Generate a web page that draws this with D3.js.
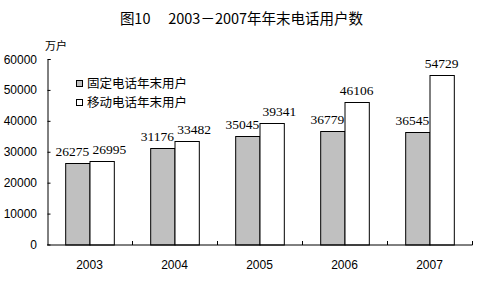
<!DOCTYPE html>
<html>
<head>
<meta charset="utf-8">
<script src="https://cdn.jsdelivr.net/npm/d3@7"></script>
<style>
  body { margin: 0; background: #fff; }
  svg { display: block; }
  .tick-label { font-family: "Liberation Sans", Arial, sans-serif; font-size: 12px; fill: #000; }
  .value-label { font-family: "Liberation Serif", "Times New Roman", serif; font-size: 13.5px; fill: #000; }
  .cjk { font-family: "Noto Sans CJK SC", sans-serif; fill: #000; }
</style>
</head>
<body>
<div class="chart"></div>
<script>
// chart data
var years = ["2003", "2004", "2005", "2006", "2007"];
var fixedUsers = [26275, 31176, 35045, 36779, 36545];
var mobileUsers = [26995, 33482, 39341, 46106, 54729];
var seriesNames = ["固定电话年末用户", "移动电话年末用户"];
var yTicks = [0, 10000, 20000, 30000, 40000, 50000, 60000];

var svgWidth = 483, svgHeight = 284;
var margin = {top: 59, right: 11, bottom: 39.5, left: 47};
var width = svgWidth - margin.left - margin.right;
var height = svgHeight - margin.top - margin.bottom;

var svg = d3.select(".chart")
    .append("svg")
    .attr("width", svgWidth)
    .attr("height", svgHeight);

var chart = svg.append("g")
    .attr("transform", "translate(" + margin.left + "," + margin.top + ")");

// build rows for each year
var rows = years.map(function(y, i) {
    return {year: y, values: [fixedUsers[i], mobileUsers[i]]};
});

// scales
var x0 = d3.scaleBand().domain(years).range([0, width])
    .paddingInner(0.428).paddingOuter(0.214);
var x1 = d3.scaleBand().domain([0, 1]).range([0, x0.bandwidth()]);
var yScale = d3.scaleLinear().domain([0, 60000]).range([height, 0]);
var fills = ["#c0c0c0", "#ffffff"];

// title
svg.append("text")
    .attr("class", "cjk")
    .attr("x", 241.5)
    .attr("y", 24)
    .attr("text-anchor", "middle")
    .style("font-size", "14.5px")
    .style("font-weight", "400")
    .attr("xml:space", "preserve")
    .text("图10\u3000 2003－2007年年末电话用户数");

// unit label
svg.append("text")
    .attr("class", "cjk")
    .attr("x", 56)
    .attr("y", 50)
    .attr("text-anchor", "middle")
    .style("font-size", "11px")
    .text("万户");

// bars
var groups = chart.selectAll(".year")
    .data(rows)
    .enter().append("g")
    .attr("class", "year")
    .attr("transform", function(d) { return "translate(" + x0(d.year) + ",0)"; });

groups.selectAll("rect")
    .data(function(d) { return d.values; })
    .enter().append("rect")
    .attr("x", function(d, i) { return x1(i) + 0.5; })
    .attr("y", function(d) { return Math.round(yScale(d)) + 0.5; })
    .attr("width", x1.bandwidth())
    .attr("height", function(d) { return height - Math.round(yScale(d)); })
    .attr("fill", function(d, i) { return fills[i]; })
    .attr("stroke", "#000")
    .attr("stroke-width", 1);

// value labels: fixed label sits a bit left, mobile label pushed right if they collide
groups.each(function(d) {
    var g = d3.select(this);
    var a = g.append("text").attr("class", "value-label")
        .attr("text-anchor", "middle")
        .attr("x", x1(0) + x1.bandwidth() / 2 - 5)
        .attr("y", yScale(d.values[0]) - 7)
        .text(d.values[0]);
    var b = g.append("text").attr("class", "value-label")
        .attr("text-anchor", "middle")
        .attr("x", x1(1) + x1.bandwidth() / 2)
        .attr("y", yScale(d.values[1]) - 7)
        .text(d.values[1]);
    var ba = a.node().getBBox(), bb = b.node().getBBox();
    var overlapY = bb.y + bb.height > ba.y && ba.y + ba.height > bb.y;
    if (overlapY && bb.x < ba.x + ba.width + 3) {
        b.attr("x", ba.x + ba.width + 3 + bb.width / 2);
    }
});

// y axis
var leftAxis = d3.axisRight(yScale).tickValues(yTicks).tickSize(3).tickFormat("");
chart.append("g")
    .attr("transform", "translate(0.5,0)")
    .call(leftAxis)
    .call(function(g) {
        g.select(".domain").attr("d", "M3,0.5H0.5V" + (height + 0.5));
    });

chart.selectAll(".ylab")
    .data(yTicks)
    .enter().append("text")
    .attr("class", "tick-label")
    .attr("x", -10)
    .attr("y", function(d) { return yScale(d) + 4.5; })
    .attr("text-anchor", "end")
    .text(function(d) { return d; });

// x axis with ticks between categories
var xAxis = chart.append("g").attr("transform", "translate(0," + (height + 0.5) + ")");
xAxis.append("line")
    .attr("x1", 0).attr("x2", width + 0.5)
    .attr("stroke", "#000");
xAxis.selectAll(".xtick")
    .data(years)
    .enter().append("line")
    .attr("x1", function(d) { return Math.round(x0(d) - x0.step() * x0.paddingOuter() + x0.step()) + 0.5; })
    .attr("x2", function(d) { return Math.round(x0(d) - x0.step() * x0.paddingOuter() + x0.step()) + 0.5; })
    .attr("y1", 0).attr("y2", -4)
    .attr("stroke", "#000");
xAxis.selectAll(".xlab")
    .data(years)
    .enter().append("text")
    .attr("class", "tick-label")
    .attr("x", function(d) { return x0(d) + x0.bandwidth() / 2; })
    .attr("y", 24)
    .attr("text-anchor", "middle")
    .text(function(d) { return d; });

// legend
var legend = svg.selectAll(".legend")
    .data(seriesNames)
    .enter().append("g")
    .attr("class", "legend")
    .attr("transform", function(d, i) { return "translate(76," + (80 + i * 19) + ")"; });
legend.append("rect")
    .attr("x", 0.5).attr("y", 0.5)
    .attr("width", 6).attr("height", 6)
    .attr("fill", function(d, i) { return fills[i]; })
    .attr("stroke", "#000");
legend.append("text")
    .attr("class", "cjk")
    .attr("x", 11)
    .attr("y", 8)
    .style("font-size", "12.5px")
    .text(function(d) { return d; });
</script>
</body>
</html>
